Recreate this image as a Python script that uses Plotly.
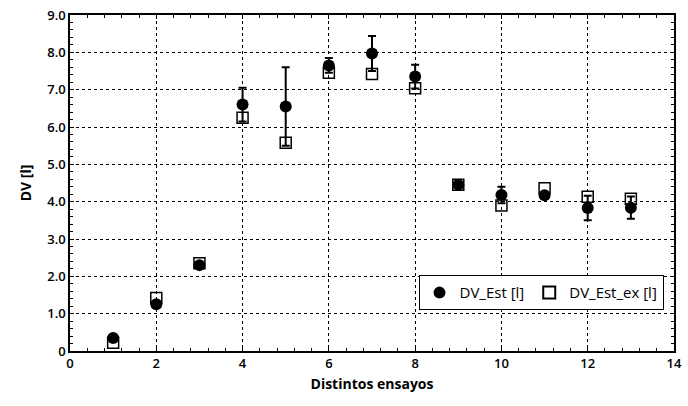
import plotly.graph_objects as go

ensayos = [1, 2, 3, 4, 5, 6, 7, 8, 9, 10, 11, 12, 13]
dv_est = [0.35, 1.25, 2.3, 6.6, 6.55, 7.65, 7.97, 7.35, 4.45, 4.18, 4.17, 3.83, 3.84]
dv_est_err = [0.0, 0.0, 0.0, 0.45, 1.05, 0.2, 0.47, 0.32, 0.0, 0.22, 0.05, 0.33, 0.3]
dv_est_ex = [0.22, 1.42, 2.35, 6.25, 5.58, 7.45, 7.42, 7.04, 4.45, 3.9, 4.36, 4.13, 4.08]

y_ticks = [0, 1, 2, 3, 4, 5, 6, 7, 8, 9]
y_tick_labels = ["0", "1.0", "2.0", "3.0", "4.0", "5.0", "6.0", "7.0", "8.0", "9.0"]
x_ticks = [0, 2, 4, 6, 8, 10, 12, 14]

font_family = "Open Sans"

fig = go.Figure()
fig.add_trace(go.Scatter(
    x=ensayos, y=dv_est_ex, mode="markers", name="DV_Est_ex [l]",
    marker=dict(symbol="square-open", size=11, color="black", line=dict(width=1.5, color="black")),
))
fig.add_trace(go.Scatter(
    x=ensayos, y=dv_est, mode="markers", name="DV_Est [l]",
    marker=dict(symbol="circle", size=12, color="black"),
    error_y=dict(type="data", array=dv_est_err, visible=True, color="black", thickness=2, width=4),
))

fig.update_layout(
    width=688, height=406,
    margin=dict(l=70, r=6, t=15, b=55),
    paper_bgcolor="white", plot_bgcolor="white",
    font=dict(family=font_family, size=13, color="black"),
    showlegend=True,
    legend=dict(
        orientation="h", x=0.577, y=0.173, xanchor="left", yanchor="middle",
        bgcolor="white", bordercolor="black", borderwidth=1,
        font=dict(family=font_family, size=15, color="black"),
        traceorder="reversed", itemwidth=30, itemsizing="constant",
        tracegroupgap=0,
    ),
    xaxis=dict(
        range=[0, 14], tickmode="array", tickvals=x_ticks,
        showline=True, linecolor="black", linewidth=1.5, mirror="ticks",
        ticks="inside", ticklen=4, tickcolor="black",
        showgrid=True, gridcolor="black", griddash="dot", gridwidth=1,
        zeroline=False,
        minor=dict(dtick=0.4, ticks="inside", ticklen=3, tickcolor="black", showgrid=False),
        tickfont=dict(family=font_family, size=13, weight=600),
        title=dict(text="Distintos ensayos", font=dict(family=font_family, size=14, weight=700), standoff=8),
    ),
    yaxis=dict(
        range=[0, 9], tickmode="array", tickvals=y_ticks, ticktext=y_tick_labels,
        showline=True, linecolor="black", linewidth=1.5, mirror="ticks",
        ticks="inside", ticklen=4, tickcolor="black",
        showgrid=True, gridcolor="black", griddash="dot", gridwidth=1,
        zeroline=False,
        minor=dict(dtick=0.2, ticks="inside", ticklen=3, tickcolor="black", showgrid=False),
        tickfont=dict(family=font_family, size=13, weight=600),
        title=dict(text="DV [l]", font=dict(family=font_family, size=14, weight=700), standoff=12),
    ),
)

fig.write_html("out.html")
